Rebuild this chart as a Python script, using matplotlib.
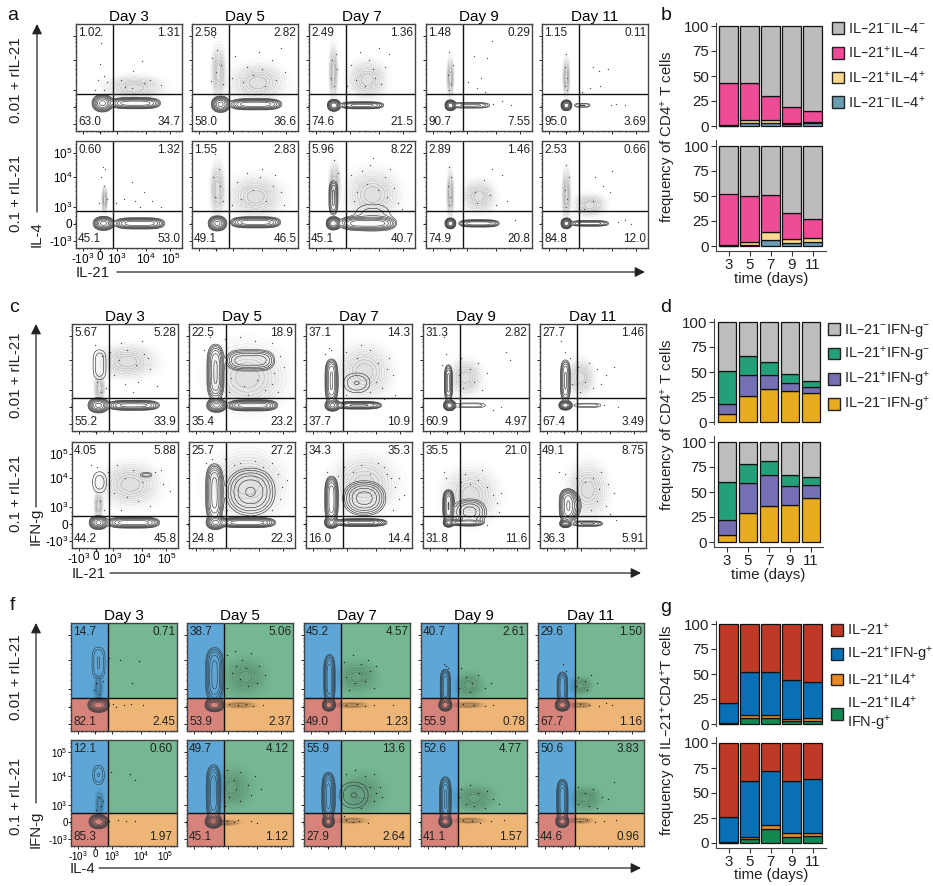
import numpy as np
import matplotlib
matplotlib.use("Agg")
import matplotlib.pyplot as plt
from matplotlib.patches import Patch

plt.rcParams['font.family'] = ['Liberation Sans', 'DejaVu Sans']
plt.rcParams['mathtext.default'] = 'regular'

W, H = 933, 886
DAYS = ['Day 3', 'Day 5', 'Day 7', 'Day 9', 'Day 11']
BAR_DAYS = ['3', '5', '7', '9', '11']

# quadrant percentages as TL, TR, BL, BR for each flow panel
A_PCT = [[('1.02', '1.31', '63.0', '34.7'), ('2.58', '2.82', '58.0', '36.6'), ('2.49', '1.36', '74.6', '21.5'),
          ('1.48', '0.29', '90.7', '7.55'), ('1.15', '0.11', '95.0', '3.69')],
         [('0.60', '1.32', '45.1', '53.0'), ('1.55', '2.83', '49.1', '46.5'), ('5.96', '8.22', '45.1', '40.7'),
          ('2.89', '1.46', '74.9', '20.8'), ('2.53', '0.66', '84.8', '12.0')]]
C_PCT = [[('5.67', '5.28', '55.2', '33.9'), ('22.5', '18.9', '35.4', '23.2'), ('37.1', '14.3', '37.7', '10.9'),
          ('31.3', '2.82', '60.9', '4.97'), ('27.7', '1.46', '67.4', '3.49')],
         [('4.05', '5.88', '44.2', '45.8'), ('25.7', '27.2', '24.8', '22.3'), ('34.3', '35.3', '16.0', '14.4'),
          ('35.5', '21.0', '31.8', '11.6'), ('49.1', '8.75', '36.3', '5.91')]]
F_PCT = [[('14.7', '0.71', '82.1', '2.45'), ('38.7', '5.06', '53.9', '2.37'), ('45.2', '4.57', '49.0', '1.23'),
          ('40.7', '2.61', '55.9', '0.78'), ('29.6', '1.50', '67.7', '1.16')],
         [('12.1', '0.60', '85.3', '1.97'), ('49.7', '4.12', '45.1', '1.12'), ('55.9', '13.6', '27.9', '2.64'),
          ('52.6', '4.77', '41.1', '1.57'), ('50.6', '3.83', '44.6', '0.96')]]

# contour populations per panel: (cx, cy, half width, half height, weight), 0-100 display scale
A_BLOBS = [[[(25, 26, 9, 7.5, 1.2), (56, 26, 24, 5, .9)],
            [(27, 25, 8, 7, 1.2), (60, 25, 25, 5, .9)],
            [(23.5, 24, 5.5, 5, 1.5), (50, 24, 22, 3.5, .5)],
            [(23, 24, 4.5, 4.5, 1.5), (42, 24, 22, 3.5, .2)],
            [(23, 24, 4.5, 4.5, 1.5), (38, 24, 10, 3, .12)]],
           [[(26, 23, 9, 6, 1.2), (60, 23, 24, 5, .9)],
            [(24, 23, 8, 6.5, 1.2), (60, 24, 24, 5, .9)],
            [(23, 23, 6, 5.5, 1.5), (55, 23, 27, 6, .9), (23, 47, 5, 18, .3), (60, 30, 30, 20, .1)],
            [(23, 23, 4.5, 4.5, 1.5), (50, 23, 20, 3.5, .6)],
            [(23, 23, 4.5, 4.5, 1.5), (45, 23, 20, 3, .35)]]]
C_BLOBS = [[[(25, 24, 9, 6.5, 1.2), (58, 24, 25, 4.5, .8), (26, 62, 11, 20, .1)],
            [(26, 24, 8.5, 6, 1.2), (60, 24, 24, 5, .9), (25, 55, 8, 27, .7), (58, 66, 25, 11, .4)],
            [(25, 24, 6.5, 5, 1.2), (50, 24, 22, 3.5, .7), (24, 47, 6, 21, .7), (48, 45, 20, 15, .12)],
            [(25, 24, 5, 4.5, 1.5), (45, 24, 20, 4, .1), (24, 45, 4, 18, .5)],
            [(24, 24, 5.5, 4, 1.5), (45, 24, 18, 3.5, .1), (24, 47, 5, 21, .45)]],
           [[(25, 24, 8, 6, 1.2), (58, 24, 25, 5, .9), (26, 62, 12, 18, .1), (70, 69, 8, 4, .09)],
            [(25, 24, 8, 6, 1.2), (55, 24, 27, 4.5, .9), (24, 52, 8, 28, .8), (58, 53, 25, 24, .45)],
            [(24, 24, 6, 5, 1.2), (52, 24, 25, 3.5, .8), (24, 46, 6, 22, .9), (55, 47, 21, 17, .55)],
            [(24, 24, 4.5, 4, 1.2), (40, 24, 18, 3, .5), (24, 40, 5, 15, 1), (44, 34, 18, 14, .35)],
            [(24, 23, 5, 3.5, 1.2), (45, 23, 16, 3, .3), (26, 40, 7.5, 16, .8), (30, 40, 10, 14, .35)]]]
F_BLOBS = [[[(26, 24, 9, 6, 1.5), (26, 63, 10, 20, .12)],
            [(26, 24, 8, 5.5, 1.5), (26, 52, 9, 27, .5)],
            [(23.5, 24, 5.5, 5, 1.5), (24, 48, 5.5, 24, .6)],
            [(23, 24, 5.5, 5, 1.5), (23, 41, 5, 17, .6)],
            [(23, 24, 6, 5, 1.5), (23, 40, 5.5, 16, .4)]],
           [[(26, 23, 8, 6, 1.5), (26, 67, 9, 15, .12)],
            [(25, 23, 7, 5.5, 1.5), (25, 50, 7, 28, .6)],
            [(23, 23, 5, 5, 1.5), (23, 47, 6, 23, .8), (47, 48, 22, 20, .12)],
            [(23, 23, 5.5, 5, 1.5), (23, 44, 5.5, 22, .7)],
            [(23, 23, 5.5, 5, 1.5), (23, 43, 5.5, 21, .6)]]]

# faint tone under the dot clouds: (cx, cy, sx, sy)
A_CLOUDS = [[[(55, 40, 22, 9)],
             [(25, 55, 5, 20), (62, 45, 20, 14)],
             [(23, 55, 3, 20), (55, 48, 14, 14)],
             [(23, 50, 2.5, 15)],
             [(23, 50, 2.5, 15)]],
            [[(27, 45, 2, 10)],
             [(24, 55, 5, 20), (60, 48, 20, 15)],
             [(60, 50, 20, 18), (24, 60, 4, 16)],
             [(23, 50, 2.5, 18), (50, 48, 12, 12)],
             [(23, 50, 3, 20), (45, 40, 12, 8)]]]
C_CLOUDS = [[[(52, 65, 22, 12), (26, 40, 4, 10)],
             [(55, 50, 28, 24)],
             [(55, 55, 20, 20)],
             [(40, 50, 12, 13)],
             [(38, 50, 10, 13)]],
            [[(55, 60, 22, 16), (25, 40, 3, 10)],
             [(55, 60, 28, 24)],
             [(55, 60, 24, 22)],
             [(45, 50, 20, 20)],
             [(45, 55, 15, 20)]]]
F_CLOUDS = [[[(26, 40, 3, 10)],
             [(55, 50, 15, 13), (50, 24, 12, 2)],
             [(50, 50, 14, 11), (45, 24, 12, 2)],
             [(45, 42, 10, 9), (45, 24, 11, 2)],
             [(40, 42, 8, 6), (40, 24, 8, 2)]],
            [[(27, 40, 3, 10)],
             [(42, 55, 14, 14), (35, 22, 12, 2)],
             [(55, 50, 15, 14), (45, 24, 11, 2)],
             [(50, 45, 15, 9), (45, 24, 11, 2)],
             [(45, 45, 11, 8), (40, 24, 9, 2)]]]

# single visible events per panel: (x, y)
A_DOTS = [[[(24, 82), (24, 90), (23, 63), (26, 51), (21, 48), (29, 46), (62, 65), (54, 56), (42, 48), (70, 48), (53, 40), (64, 45), (80, 43), (35, 40), (46, 41), (18, 38), (26, 38)],
           [(21, 88), (24, 76), (19, 68), (27, 62), (23, 55), (18, 47), (29, 44), (41, 70), (52, 60), (63, 74), (75, 66), (84, 78), (48, 46), (58, 52), (69, 42), (79, 48), (38, 50), (88, 55), (66, 58)],
           [(25, 72), (22, 66), (26, 58), (21, 50), (24, 42), (40, 62), (48, 74), (57, 66), (66, 78), (72, 60), (75, 72), (44, 48), (53, 42), (62, 50), (68, 44), (36, 42), (60, 58)],
           [(22, 74), (25, 62), (21, 52), (24, 44), (22, 38), (45, 70), (58, 68), (62, 84), (52, 50), (40, 46), (48, 40), (56, 36), (72, 28), (63, 25), (80, 24)],
           [(23, 72), (22, 60), (24, 50), (22, 42), (24, 38), (48, 60), (54, 56), (62, 58), (55, 42), (45, 40), (38, 36), (70, 25), (65, 24), (78, 24)]],
          [[(25, 76), (27, 74), (24, 66), (26, 58), (29, 46), (22, 42), (53, 62), (64, 52), (45, 46), (38, 42), (56, 44), (72, 44), (80, 38), (60, 38)],
           [(22, 88), (25, 74), (20, 66), (26, 58), (22, 48), (29, 44), (42, 62), (52, 70), (64, 66), (76, 58), (84, 52), (46, 46), (58, 54), (70, 44), (38, 40), (78, 68), (66, 74), (87, 40)],
           [(24, 82), (27, 70), (40, 68), (50, 72), (58, 78), (72, 66), (80, 56), (45, 52), (55, 60), (65, 54), (74, 48), (84, 42), (42, 44), (76, 74), (88, 36), (60, 84)],
           [(22, 76), (24, 66), (21, 58), (23, 48), (22, 40), (46, 52), (55, 64), (62, 74), (72, 68), (48, 42), (60, 50), (66, 40), (76, 44), (80, 90), (84, 26)],
           [(23, 78), (25, 66), (22, 54), (24, 46), (23, 38), (50, 66), (58, 58), (64, 52), (48, 44), (66, 72), (40, 36), (72, 24), (78, 26), (84, 22)]]]
C_DOTS = [[[(22, 80), (28, 70), (36, 74), (44, 66), (52, 76), (60, 62), (68, 72), (74, 58), (40, 52), (50, 44), (62, 46), (32, 40), (24, 46), (27, 36), (72, 68), (58, 36), (80, 42), (46, 82), (66, 84)],
           [(20, 88), (14, 76), (34, 86), (48, 88), (62, 84), (78, 82), (86, 70), (90, 60), (40, 50), (52, 42), (64, 48), (78, 44), (84, 36), (38, 36), (56, 34), (72, 38), (80, 54)],
           [(22, 78), (18, 72), (38, 74), (48, 68), (60, 76), (68, 64), (76, 58), (82, 52), (66, 46), (72, 40), (84, 34), (60, 36), (38, 34), (78, 68), (52, 80), (74, 30), (24, 76)],
           [(20, 88), (22, 72), (18, 62), (36, 68), (44, 58), (52, 64), (60, 54), (48, 46), (38, 40), (56, 38), (78, 74), (82, 66), (66, 20), (74, 22), (34, 52)],
           [(20, 84), (24, 74), (28, 68), (36, 60), (46, 64), (54, 58), (62, 52), (42, 46), (50, 40), (38, 36), (70, 60), (60, 24), (74, 22), (30, 44), (58, 44)]],
          [[(18, 78), (24, 76), (34, 72), (42, 78), (50, 66), (58, 74), (66, 62), (78, 72), (86, 60), (40, 52), (52, 48), (62, 44), (74, 40), (30, 36), (26, 44), (84, 74), (46, 36), (92, 54)],
           [(16, 80), (34, 84), (48, 80), (62, 82), (78, 80), (84, 70), (88, 58), (86, 46), (78, 36), (72, 30), (36, 36), (42, 78), (70, 76), (92, 64), (22, 84)],
           [(20, 72), (30, 68), (44, 72), (52, 78), (60, 70), (74, 76), (80, 66), (84, 58), (88, 46), (82, 36), (92, 50), (68, 80), (36, 76), (76, 70), (88, 66)],
           [(22, 66), (20, 72), (36, 62), (44, 60), (52, 64), (60, 58), (66, 50), (70, 42), (64, 30), (72, 34), (56, 74), (74, 52), (60, 22), (40, 70)],
           [(18, 72), (24, 70), (34, 66), (42, 62), (50, 66), (56, 56), (64, 60), (70, 52), (54, 44), (62, 40), (48, 36), (72, 26), (58, 72), (66, 32)]]]
F_DOTS = [[[(22, 38), (26, 34), (24, 44), (30, 46), (36, 68), (46, 66), (64, 65), (58, 44), (50, 24), (40, 25), (57, 25), (68, 24), (42, 22)],
           [(38, 70), (45, 74), (52, 66), (60, 72), (68, 60), (74, 52), (42, 54), (50, 48), (58, 42), (66, 44), (38, 40), (46, 60), (56, 58), (40, 25), (48, 24), (56, 25), (62, 23), (72, 24)],
           [(38, 64), (46, 70), (54, 62), (62, 56), (68, 60), (40, 50), (48, 44), (58, 46), (66, 40), (42, 38), (52, 54), (60, 66), (40, 24), (50, 25), (58, 23), (66, 24), (84, 24)],
           [(38, 58), (42, 50), (48, 44), (54, 52), (60, 40), (36, 40), (46, 36), (66, 44), (24, 60), (22, 62), (25, 58), (40, 25), (50, 24), (60, 23), (68, 24)],
           [(38, 50), (44, 46), (50, 52), (56, 44), (36, 42), (46, 38), (26, 56), (24, 62), (40, 25), (48, 24), (58, 23), (64, 26), (70, 24)]],
          [[(26, 46), (30, 42), (24, 34), (28, 38), (38, 70), (56, 68), (60, 62), (36, 24), (44, 25), (52, 24), (60, 24), (32, 23)],
           [(38, 72), (44, 62), (50, 70), (58, 58), (64, 66), (70, 54), (40, 46), (50, 42), (60, 48), (36, 38), (46, 54), (38, 24), (44, 23), (48, 25), (60, 24), (66, 22)],
           [(48, 72), (58, 66), (66, 68), (72, 56), (74, 46), (66, 42), (54, 36), (40, 68), (62, 56), (68, 50), (40, 25), (46, 23), (52, 24), (60, 22), (38, 28)],
           [(38, 54), (46, 58), (54, 50), (62, 52), (68, 44), (74, 40), (42, 40), (50, 38), (60, 36), (36, 46), (40, 25), (48, 24), (56, 22), (66, 24), (78, 25)],
           [(38, 56), (44, 50), (52, 54), (60, 46), (66, 44), (38, 40), (48, 38), (56, 36), (72, 60), (40, 24), (46, 25), (54, 23), (62, 24), (74, 25)]]]

FLOW_TICKS = [6.6, 22.6, 38.5, 66, 89]
FLOW_TICKLABELS = ['-$10^{3}$', '0', '$10^{3}$', '$10^{4}$', '$10^{5}$']
FLOW_MINOR = [3, 10, 14, 19, 21, 22, 23, 24, 26, 30, 34, 47, 53, 58, 62, 74, 79, 83, 86, 94, 97]
QUAD_COLORS = ['#5DA6D6', '#75B792', '#D5837B', '#EDB677']

# stacked bars, segment heights from bottom to top
B_TOP = [[0.5, 3, 3, 2, 3], [0.5, 3, 3, 1, 1], [42.5, 37, 24, 16, 11], [56.5, 57, 70, 81, 85]]
B_BOT = [[0.3, 1.5, 6, 3, 4], [0.4, 3, 8, 4, 4], [51.8, 46, 37, 26, 19.5], [47.5, 49.5, 49, 67, 72.5]]
D_TOP = [[8, 26, 33, 31, 29], [10, 21, 14, 8, 6], [33, 19, 13, 9, 6], [49, 34, 40, 52, 59]]
D_BOT = [[7, 29, 36, 37, 44], [15, 30, 31, 19, 13], [38, 19, 14, 11, 8], [40, 22, 19, 33, 35]]
G_TOP = [[0.5, 6, 6, 3, 3.5], [0.5, 3, 3, 2.5, 2.5], [20.5, 43, 43, 38.5, 36.5], [78.5, 48, 48, 56, 57.5]]
G_BOT = [[0.3, 4.5, 14, 6.5, 7], [0.3, 2, 4, 3.5, 3], [25.4, 56, 54, 52, 54], [74, 37.5, 28, 38, 36]]

B_COLORS = ['#6B9DB3', '#FDD88D', '#EE4C97', '#BCBCBC']
D_COLORS = ['#E6AB1F', '#7570B3', '#23A079', '#BDBDBD']
G_COLORS = ['#138750', '#E78A26', '#0A70B5', '#BE3A26']
B_LABELS = ['IL–21$^{-}$IL–4$^{-}$', 'IL–21$^{+}$IL–4$^{-}$', 'IL–21$^{+}$IL–4$^{+}$', 'IL–21$^{-}$IL–4$^{+}$']
D_LABELS = ['IL–21$^{-}$IFN-g$^{-}$', 'IL–21$^{+}$IFN-g$^{-}$', 'IL–21$^{+}$IFN-g$^{+}$', 'IL–21$^{-}$IFN-g$^{+}$']
G_LABELS = ['IL–21$^{+}$', 'IL–21$^{+}$IFN-g$^{+}$', 'IL–21$^{+}$IL4$^{+}$', 'IL–21$^{+}$IL4$^{+}$\nIFN-g$^{+}$']

fig = plt.figure(figsize=(W / 100, H / 100), dpi=100)


def px_axes(x0, y0, x1, y1):
    """Axes from pixel box, y measured from the top of the image."""
    return fig.add_axes([x0 / W, 1 - y1 / H, (x1 - x0) / W, (y1 - y0) / H])


def px_text(x, y, s, **kw):
    kw.setdefault('ha', 'center')
    kw.setdefault('va', 'center')
    fig.text(x / W, 1 - y / H, s, **kw)


def px_arrow(x0, y0, x1, y1):
    fig.add_artist(plt.Annotation('', xy=(x1 / W, 1 - y1 / H), xytext=(x0 / W, 1 - y0 / H),
                                  xycoords='figure fraction', textcoords='figure fraction',
                                  arrowprops=dict(arrowstyle='-|>,head_width=0.3,head_length=0.6',
                                                  color='#222222', lw=0.9, shrinkA=0, shrinkB=0)))


def axis_term(d, s, other):
    # long populations get a flatter top so they read as pills, not ellipses
    if s > 1.8 * other:
        return np.abs(d / (s * 0.76)) ** 4
    return np.abs(d / (s * 0.65)) ** 2.2


def density(X, Y, blobs):
    Z = np.zeros_like(X)
    for cx, cy, sx, sy, w in blobs:
        Z += w * np.exp(-axis_term(X - cx, sx, sy) - axis_term(Y - cy, sy, sx))
    return Z


def cloud_tone(X, Y, clouds):
    Z = np.zeros_like(X)
    for cx, cy, sx, sy in clouds:
        Z += np.exp(-((X - cx) / sx) ** 2 - ((Y - cy) / sy) ** 2)
    return Z


TONE_LEVELS = [0.06, 0.12, 0.18, 0.25, 0.32, 0.4, 0.5, 0.6, 0.72, 0.85, 50]
TONE_COLORS = [(0, 0, 0, 0.012 * (i + 1)) for i in range(len(TONE_LEVELS) - 1)]


def flow_panel(ax, pct, blobs, clouds, dots, qx, qy, shaded=False, labels=False, lab_size=8.5, inset=0.985, pad=0.5):
    x = np.linspace(0, 100, 251)
    X, Y = np.meshgrid(x, x)
    if shaded:
        ax.axvspan(0, qx, ymin=qy / 100, color=QUAD_COLORS[0], lw=0)
        ax.axvspan(qx, 100, ymin=qy / 100, color=QUAD_COLORS[1], lw=0)
        ax.axvspan(0, qx, ymax=qy / 100, color=QUAD_COLORS[2], lw=0)
        ax.axvspan(qx, 100, ymax=qy / 100, color=QUAD_COLORS[3], lw=0)
    ax.contourf(X, Y, cloud_tone(X, Y, clouds), levels=TONE_LEVELS, colors=TONE_COLORS)
    dx, dy = zip(*dots)
    ax.scatter(dx, dy, s=1.0, color='#222222' if shaded else '#555555', linewidths=0)
    ax.contour(X, Y, density(X, Y, blobs), levels=np.geomspace(0.05, 1.0, 8),
               colors='#2f383d' if shaded else '#3a3a3a', linewidths=0.4 if shaded else 0.45)
    ax.axvline(qx, color='#111111', lw=1.0)
    ax.axhline(qy, color='#111111', lw=1.0)
    ax.set_xlim(0, 100)
    ax.set_ylim(0, 100)
    for spine in ax.spines.values():
        spine.set_color('#444444')
        spine.set_linewidth(1.0)
    ax.set_xticks(FLOW_TICKS)
    ax.set_yticks(FLOW_TICKS)
    ax.set_xticks(FLOW_MINOR, minor=True)
    ax.set_yticks(FLOW_MINOR, minor=True)
    ax.tick_params(which='major', length=2, width=0.6, pad=pad, labelsize=lab_size)
    ax.tick_params(which='minor', length=1, width=0.5)
    if labels:
        ax.set_xticklabels(FLOW_TICKLABELS)
        ax.set_yticklabels(FLOW_TICKLABELS)
    else:
        ax.set_xticklabels([])
        ax.set_yticklabels([])
    tl, tr, bl, br = pct
    ax.text(0.02, 0.97, tl, transform=ax.transAxes, ha='left', va='top', fontsize=8.5, color='#222222')
    ax.text(inset, 0.97, tr, transform=ax.transAxes, ha='right', va='top', fontsize=8.5, color='#222222')
    ax.text(0.02, 0.03, bl, transform=ax.transAxes, ha='left', va='bottom', fontsize=8.5, color='#222222')
    ax.text(inset, 0.03, br, transform=ax.transAxes, ha='right', va='bottom', fontsize=8.5, color='#222222')


def flow_group(xs, rows, pct, blobs, clouds, dots, qx, qy, shaded=False, lab_size=8.5, insets=(0.985, 0.985)):
    for r, (y0, y1) in enumerate(rows):
        for c, x0 in enumerate(xs):
            ax = px_axes(x0, y0, x0 + 106, y1)
            flow_panel(ax, pct[r][c], blobs[r][c], clouds[r][c], dots[r][c], qx, qy[r], shaded,
                       labels=(r == 1 and c == 0), lab_size=lab_size, inset=insets[r])
            if r == 0:
                ax.set_title(DAYS[c], fontsize=11, pad=2.5)


def bar_group(x_left, x_right, first_c, top, bot, colors, y100, labelpad):
    for r, vals in enumerate([top, bot]):
        zero = y100[r] + 100
        spine_top = y100[r] - (3 if r == 0 else 6)
        spine_bot = zero + (2 if r == 0 else 5)
        ax = px_axes(x_left, spine_top, x_right, spine_bot)
        pos = np.arange(5)
        bottom = np.zeros(5)
        for seg, col in zip(vals, colors):
            ax.bar(pos, seg, 0.9, bottom=bottom, color=col, edgecolor='#111111', linewidth=0.9)
            bottom += np.array(seg)
        ax.set_xlim((x_left - first_c) / 21, (x_right - first_c) / 21)
        ax.set_ylim(zero - spine_bot, zero - spine_top)
        ax.set_yticks([0, 25, 50, 75, 100])
        ax.tick_params(axis='y', length=3.6, width=0.8, labelsize=10.8, pad=1.5, color='#333333', labelcolor='#222222')
        ax.spines['top'].set_visible(False)
        ax.spines['right'].set_visible(False)
        ax.spines['left'].set_color('#444444')
        if r == 0:
            ax.spines['bottom'].set_visible(False)
            ax.set_xticks([])
        else:
            ax.spines['bottom'].set_color('#444444')
            ax.set_xticks(pos)
            ax.set_xticklabels(BAR_DAYS)
            ax.tick_params(axis='x', length=3.6, width=0.8, labelsize=10.8, pad=1.5, color='#333333', labelcolor='#222222')
            ax.set_xlabel('time (days)', fontsize=10.8, labelpad=labelpad, color='#222222')


def px_legend(x, y, colors, labels, spacing=0.6):
    handles = [Patch(facecolor=c, edgecolor='#222222', linewidth=1.0) for c in colors]
    fig.legend(handles, labels, loc='upper left', bbox_to_anchor=(x / W, 1 - y / H), frameon=False,
               fontsize=10.5, handlelength=0.85, handleheight=0.85, handletextpad=0.25,
               labelspacing=spacing, borderpad=0, borderaxespad=0, labelcolor='#222222')


# flow panels
A_X = [76, 192, 309, 426, 542]
C_X = [72, 189, 306, 423, 540]
F_X = [71, 187, 304, 421, 538]
flow_group(A_X, [(24, 131), (141, 248)], A_PCT, A_BLOBS, A_CLOUDS, A_DOTS, 35, [34.5, 34.5])
flow_group(C_X, [(324, 431), (442, 548)], C_PCT, C_BLOBS, C_CLOUDS, C_DOTS, 34.5, [31, 30])
flow_group(F_X, [(623, 731), (740, 846)], F_PCT, F_BLOBS, F_CLOUDS, F_DOTS, 35, [31, 31],
           shaded=True, lab_size=7, insets=(0.985, 0.955))

# bars
bar_group(716, 826, 728.5, B_TOP, B_BOT, B_COLORS, [26, 146], 0)
bar_group(714, 823, 727, D_TOP, D_BOT, D_COLORS, [322, 442], 0)
bar_group(716, 826, 728.5, G_TOP, G_BOT, G_COLORS, [624, 743], -0.5)

px_legend(832, 22, B_COLORS[::-1], B_LABELS)
px_legend(828, 322, D_COLORS[::-1], D_LABELS, spacing=0.42)
px_legend(831, 622, G_COLORS[::-1], G_LABELS, spacing=0.5)

px_text(668, 137, 'frequency of CD4$^{+}$ T cells', rotation=90, fontsize=10.8, color='#222222')
px_text(668, 425, 'frequency of CD4$^{+}$ T cells', rotation=90, fontsize=10.8, color='#222222')
px_text(668, 730, 'frequency of IL–21$^{+}$CD4$^{+}$T cells', rotation=90, fontsize=10.8, color='#222222')

# panel letters
for x, y, s in [(13, 15, 'a'), (666, 15, 'b'), (14, 308, 'c'), (666, 307, 'd'), (12, 605, 'f'), (666, 607, 'g')]:
    px_text(x, y, s, fontsize=14, color='#111111')

# condition labels
for y, s in [(80, '0.01 + rIL-21'), (193, '0.1 + rIL-21'), (375, '0.01 + rIL-21'), (493, '0.1 + rIL-21'),
             (677, '0.01 + rIL-21'), (796, '0.1 + rIL-21')]:
    px_text(16, y, s, rotation=90, fontsize=10.8, color='#222222')

# axis arrows
px_arrow(37, 212, 37, 24)
px_arrow(117, 272, 645, 272)
px_text(37, 234, 'IL-4', rotation=90, fontsize=10.8, color='#222222')
px_text(76, 273, 'IL-21', ha='left', fontsize=10.8, color='#222222')
px_arrow(36, 507, 36, 324)
px_arrow(110, 573, 641, 573)
px_text(36, 526, 'IFN-g', rotation=90, fontsize=10.8, color='#222222')
px_text(72, 574, 'IL-21', ha='left', fontsize=10.8, color='#222222')
px_arrow(36, 803, 36, 623)
px_arrow(99, 868, 641, 868)
px_text(36, 829, 'IFN-g', rotation=90, fontsize=10.8, color='#222222')
px_text(70, 869, 'IL-4', ha='left', fontsize=10.8, color='#222222')

fig.savefig('out.png', dpi=100)
